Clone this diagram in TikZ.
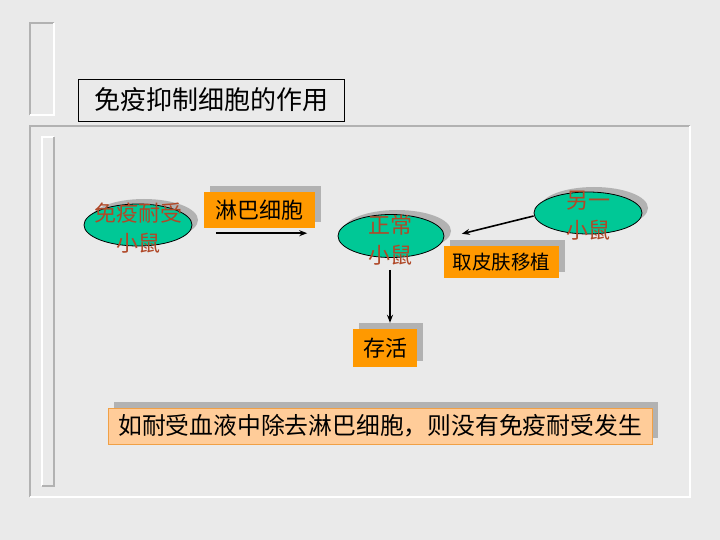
\documentclass[tikz,border=0pt]{standalone}
\usepackage{fontspec}
\newfontfamily\cjk{Noto Sans CJK SC}
\usetikzlibrary{shapes.geometric,arrows.meta,calc}
\definecolor{bg}{RGB}{234,234,234}
\definecolor{shade}{RGB}{178,178,178}
\definecolor{mint}{RGB}{0,200,150}
\definecolor{mousetxt}{RGB}{176,72,40}
\definecolor{orng}{RGB}{255,153,0}
\definecolor{lorng}{RGB}{255,204,153}
\definecolor{lborder}{RGB}{240,160,70}
\tikzset{
  darkedge/.style={draw=shade, line width=2pt},
  lightedge/.style={draw=white, line width=2pt},
  mouse/.style={ellipse, draw=black, line width=0.8pt, fill=mint, minimum width=108pt, minimum height=42pt, inner sep=0pt},
  mouseshadow/.style={ellipse, fill=shade, minimum width=108pt, minimum height=42pt, inner sep=0pt},
  mousetext/.style={text=mousetxt, font=\cjk\fontsize{22}{30}\selectfont, align=center, inner sep=0pt},
  obox/.style={rectangle, fill=orng, inner sep=0pt, font=\cjk\fontsize{22}{26}\selectfont},
  boxshadow/.style={rectangle, fill=shade, inner sep=0pt},
  arr/.style={line width=1.6pt, -{Stealth[length=8pt,width=6pt]}}
}
\begin{document}
\begin{tikzpicture}[x=1pt,y=-1pt]
\fill[bg] (0,0) rectangle (720,540);
\useasboundingbox (0,0) rectangle (720,540);
% decorations
\draw[darkedge] (30,115) -- (30,23) -- (54,23);
\draw[lightedge] (54,23) -- (54,115) -- (30,115);
\draw[darkedge] (30,497) -- (30,126) -- (690,126);
\draw[lightedge] (690,126) -- (690,497) -- (30,497);
\draw[lightedge] (42,486) -- (42,137) -- (54,137);
\draw[darkedge] (54,137) -- (54,486) -- (42,486);
% title
\node[draw=black, line width=0.8pt, fill=bg, minimum width=266pt, minimum height=42pt, inner sep=0pt, font=\cjk\fontsize{26}{30}\selectfont] (title) at (211,100) {免疫抑制细胞的作用};
% mice
\node[mouseshadow] at (144,220) {};
\node[mouse] (e1) at (138,225) {};
\node[mousetext] (t1) at (138,228) {免疫耐受\\小鼠};
\node[mouseshadow] at (397,231) {};
\node[mouse, minimum width=106pt, minimum height=43pt] (e2) at (391,236) {};
\node[mousetext] (t2) at (390,240) {正常\\小鼠};
\node[mouseshadow] at (594,208) {};
\node[mouse] (e3) at (588,213) {};
\node[mousetext] (t3) at (588,216) {另一\\小鼠};
% boxes
\node[boxshadow, minimum width=111pt, minimum height=36pt] at (265.5,204) {};
\node[obox, minimum width=111pt, minimum height=36pt] (lymph) at (259.5,210) {淋巴细胞};
\node[boxshadow, minimum width=115pt, minimum height=32pt] at (507.5,256) {};
\node[obox, minimum width=115pt, minimum height=32pt, font=\cjk\fontsize{19.5}{24}\selectfont] (skin) at (501.5,262) {取皮肤移植};
\node[boxshadow, minimum width=64pt, minimum height=38pt] at (391,342) {};
\node[obox, minimum width=64pt, minimum height=38pt] (live) at (385,348) {存活};
\node[boxshadow, minimum width=544pt, minimum height=36pt] at (386,420) {};
\node[rectangle, fill=lorng, draw=lborder, line width=0.8pt, minimum width=544pt, minimum height=36pt, inner sep=0pt, font=\cjk\fontsize{23.8}{28}\selectfont] (note) at (380,426) {如耐受血液中除去淋巴细胞，则没有免疫耐受发生};
% connectors
\coordinate (a1s) at ($(lymph.south west)+(12,5)$);
\coordinate (a1e) at ($(lymph.south east)+(-8,5)$);
\draw[arr] (a1s) -- (a1e);
\coordinate (a2s) at ($(e3.west)+(0,3)$);
\coordinate (a2e) at ($(skin.north west)+(18,-12)$);
\draw[arr] (a2s) -- (a2e);
\coordinate (a3s) at ($(e2.south)+(-1,12)$);
\coordinate (a3e) at ($(live.north)+(5,-6)$);
\draw[arr] (a3s) -- (a3s |- a3e);
\end{tikzpicture}
\end{document}
